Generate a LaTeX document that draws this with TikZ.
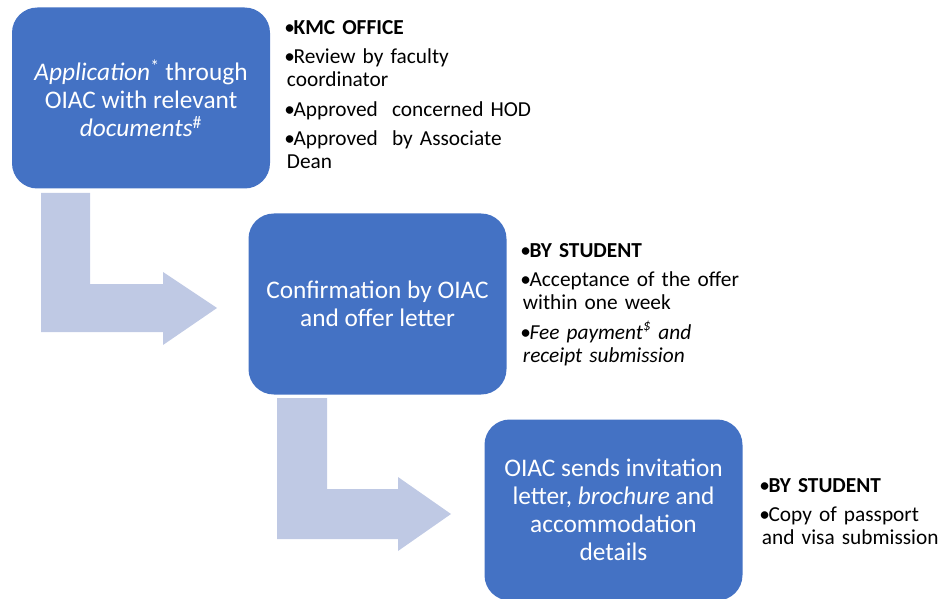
\documentclass[tikz,border=0pt]{standalone}
\usepackage{fontspec}
\setmainfont{Carlito}
\definecolor{boxblue}{RGB}{68,114,196}
\definecolor{arrowblue}{RGB}{191,201,228}
\newlength{\bw}
\newlength{\bh}
\setlength{\bw}{7pt}
\setlength{\bh}{2pt}
\newcommand{\bitem}[1]{\par\noindent\hangindent=\bh\hangafter=1\makebox[\bw][l]{•}#1}
\tikzset{
  stepbox/.style={fill=boxblue, draw=none, rounded corners=19pt,
    minimum width=193.5pt, minimum height=135.75pt, text=white,
    align=center, font=\fontsize{19}{21}\selectfont, inner sep=0pt},
  notes/.style={anchor=west, text width=220pt, inner sep=0pt, text=black,
    font=\fontsize{16}{17.5}\selectfont},
  bentarrow/.style={fill=arrowblue, draw=none}
}
\begin{document}
\begin{tikzpicture}[x=0.75pt,y=-0.75pt]
\useasboundingbox (0,0) rectangle (943,599);
% bent arrows
\fill[bentarrow] (41,193) -- (90,193) -- (90,284) -- (163,284) -- (163,272) -- (217,308) -- (163,345) -- (163,332) -- (41,332) -- cycle;
\fill[bentarrow] (277,398) -- (327,398) -- (327,489) -- (398,489) -- (398,477) -- (451,514) -- (398,551) -- (398,539) -- (277,539) -- cycle;
% boxes
\node[stepbox] (b1) at (141,98) {\textit{Application}\textsuperscript{*} through\\OIAC with relevant\\\textit{documents}\textsuperscript{\#}};
\node[stepbox] (b2) at (377.5,304) {Confirmation by OIAC\\and offer letter};
\node[stepbox] (b3) at (613.5,510) {OIAC sends invitation\\letter, \textit{brochure} and\\accommodation\\details};
% box outlines (fixed extents)
% notes
\node[notes] (n1) at (284,87) {\setlength{\parskip}{4.5pt}\raggedright
\bitem{\textbf{KMC OFFICE}}
\bitem{Review by faculty\hfill\break coordinator}
\bitem{Approved\ \ concerned HOD}
\bitem{Approved\ \ by Associate\hfill\break Dean}\par};
\node[notes] (n2) at (520,297) {\setlength{\parskip}{4.5pt}\raggedright
\bitem{\textbf{BY STUDENT}}
\bitem{Acceptance of the offer\hfill\break within one week}
\bitem{\textit{Fee payment\textsuperscript{\$} and\hfill\break receipt submission}}\par};
\node[notes] (n3) at (759,504) {\setlength{\parskip}{4.5pt}\raggedright
\bitem{\textbf{BY STUDENT}}
\bitem{Copy\ of passport\hfill\break and visa submission}\par};
\end{tikzpicture}
\end{document}
